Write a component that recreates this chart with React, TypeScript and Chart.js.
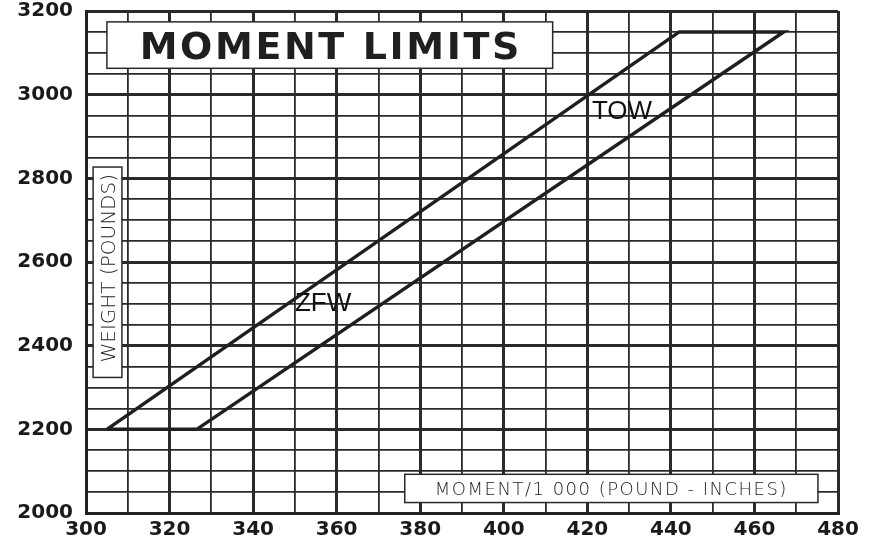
import React, { useEffect, useRef } from "react";
import { Chart, registerables } from "chart.js";

Chart.register(...registerables);

// ---- data ----
const xMin = 300;
const xMax = 480;
const yMin = 2000;
const yMax = 3200;
const xLabelStep = 20;
const xGridStep = 10;
const yLabelStep = 200;
const yGridStep = 50;

const envelopeMoment = [305, 326.5, 467, 442, 305];
const envelopeWeight = [2200, 2200, 3150, 3150, 2200];

const chartTitle = "MOMENT LIMITS";
const xAxisTitle = "MOMENT/1 000 (POUND - INCHES)";
const yAxisTitle = "WEIGHT (POUNDS)";
const curveNames = ["TOW", "ZFW"];

const INK = "#1f1f1f";

const annotationPlugin = {
  id: "annotations",
  afterDraw(chart: any) {
    const ctx = chart.ctx as CanvasRenderingContext2D;
    const xs = chart.scales.x;
    const ys = chart.scales.y;
    const px = (v: number) => xs.getPixelForValue(v);
    const py = (v: number) => ys.getPixelForValue(v);

    const box = (x0: number, y0: number, x1: number, y1: number) => {
      ctx.save();
      ctx.fillStyle = "#ffffff";
      ctx.fillRect(x0, y0, x1 - x0, y1 - y0);
      ctx.strokeStyle = "#2a2a2a";
      ctx.lineWidth = 1.5;
      ctx.strokeRect(x0, y0, x1 - x0, y1 - y0);
      ctx.restore();
    };

    // title box
    const tx0 = px(305);
    const tx1 = px(411.7);
    const ty0 = py(3174);
    const ty1 = py(3063);
    box(tx0, ty0, tx1, ty1);
    ctx.save();
    ctx.fillStyle = INK;
    ctx.font = 'bold 38px "DejaVu Sans"';
    (ctx as any).letterSpacing = "2.6px";
    ctx.textAlign = "center";
    ctx.textBaseline = "alphabetic";
    ctx.fillText(chartTitle, (tx0 + tx1) / 2 + 1, py(3085));
    ctx.restore();

    // y axis title box
    const yx0 = px(301.7);
    const yx1 = px(308.6);
    const yy0 = py(2827);
    const yy1 = py(2324);
    box(yx0, yy0, yx1, yy1);
    ctx.save();
    ctx.fillStyle = "#222222";
    ctx.font = '200 20px "DejaVu Sans"';
    ctx.textAlign = "center";
    ctx.textBaseline = "alphabetic";
    ctx.translate(px(306.95), (yy0 + yy1) / 2 - 4);
    ctx.rotate(-Math.PI / 2);
    ctx.fillText(yAxisTitle, 0, 0);
    ctx.restore();

    // x axis title box
    const xx0 = px(376.3);
    const xx1 = px(475.2);
    const xy0 = py(2092.5);
    const xy1 = py(2025);
    box(xx0, xy0, xx1, xy1);
    ctx.save();
    ctx.fillStyle = "#222222";
    ctx.font = '200 18px "DejaVu Sans"';
    (ctx as any).letterSpacing = "1.5px";
    ctx.textAlign = "center";
    ctx.textBaseline = "alphabetic";
    ctx.fillText(xAxisTitle, (xx0 + xx1) / 2, py(2042));
    ctx.restore();

    // curve labels
    ctx.save();
    ctx.fillStyle = "#111111";
    ctx.font = '26px "Liberation Sans"';
    ctx.textAlign = "left";
    ctx.textBaseline = "alphabetic";
    ctx.fillText(curveNames[0], px(421.1), py(2942));
    ctx.fillText(curveNames[1], px(350), py(2483));
    ctx.restore();
  },
};

export default function App() {
  const ref = useRef<HTMLCanvasElement | null>(null);

  useEffect(() => {
    if (!ref.current) return;
    const points = envelopeMoment.map((m, i) => ({ x: m, y: envelopeWeight[i] }));
    const chart = new Chart(ref.current, {
      type: "scatter",
      data: {
        datasets: [
          {
            data: points,
            showLine: true,
            borderColor: INK,
            borderWidth: 3.5,
            borderJoinStyle: "miter",
            pointRadius: 0,
            fill: false,
          } as any,
        ],
      },
      options: {
        responsive: false,
        animation: false,
        events: [],
        layout: { padding: { top: 11, right: 52, left: 0, bottom: 0 } },
        plugins: {
          legend: { display: false },
          tooltip: { enabled: false },
          title: { display: false },
        },
        scales: {
          x: {
            type: "linear",
            min: xMin,
            max: xMax,
            afterBuildTicks: (scale: any) => {
              const t = [];
              for (let v = xMin; v <= xMax; v += xGridStep) t.push({ value: v });
              scale.ticks = t;
            },
            afterFit: (scale: any) => {
              scale.height = 33;
              scale.paddingLeft = 0;
              scale.paddingRight = 0;
            },
            ticks: {
              autoSkip: false,
              maxRotation: 0,
              padding: 5,
              color: "#1a1a1a",
              font: { family: "DejaVu Sans", weight: "bold", size: 20 },
              callback: (v: any) => (Number(v) % xLabelStep === 0 ? String(v) : ""),
            },
            grid: {
              drawTicks: false,
              color: "#2a2a2a",
              lineWidth: (c: any) => (c.tick && c.tick.value % xLabelStep === 0 ? 3 : 1.8),
            },
            border: { display: true, color: "#222", width: 3 },
          },
          y: {
            type: "linear",
            min: yMin,
            max: yMax,
            afterBuildTicks: (scale: any) => {
              const t = [];
              for (let v = yMin; v <= yMax; v += yGridStep) t.push({ value: v });
              scale.ticks = t;
            },
            afterFit: (scale: any) => {
              scale.width = 86;
              scale.paddingTop = 0;
              scale.paddingBottom = 0;
            },
            ticks: {
              autoSkip: false,
              padding: 13,
              color: "#1a1a1a",
              font: { family: "DejaVu Sans", weight: "bold", size: 20 },
              callback: (v: any) => (Number(v) % yLabelStep === 0 ? String(v) : ""),
            },
            grid: {
              drawTicks: false,
              color: "#2a2a2a",
              lineWidth: (c: any) => (c.tick && c.tick.value % yLabelStep === 0 ? 3 : 1.8),
            },
            border: { display: true, color: "#222", width: 3 },
          },
        },
      },
      plugins: [annotationPlugin],
    });
    return () => chart.destroy();
  }, []);

  return (
    <div style={{ position: "absolute", left: 0, top: 0, width: 890, height: 546, background: "#fff" }}>
      <canvas ref={ref} width={890} height={546} style={{ display: "block" }} />
    </div>
  );
}
